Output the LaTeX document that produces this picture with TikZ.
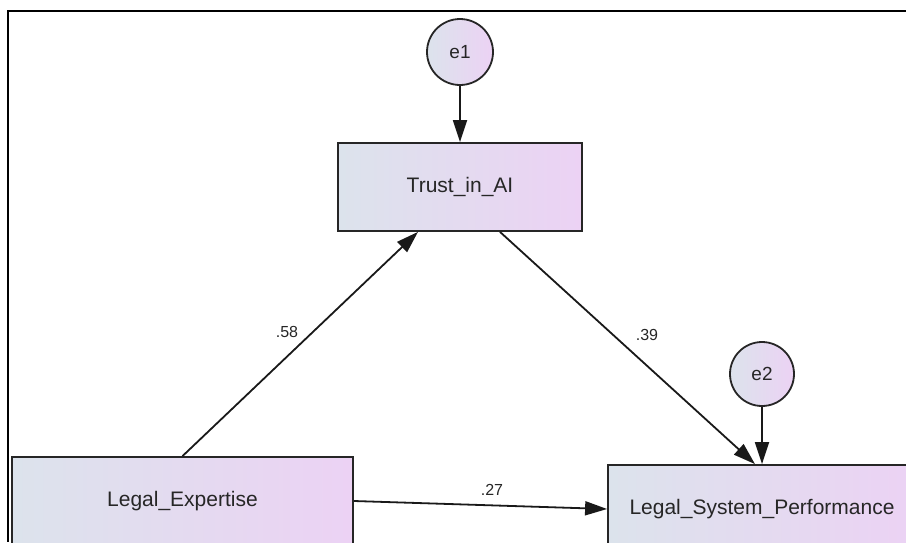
\documentclass[tikz,border=0pt]{standalone}
\usepackage{fontspec}
\setmainfont{Liberation Sans}
\usetikzlibrary{shapes,arrows.meta}
\definecolor{fillleft}{HTML}{DCE3EC}
\definecolor{fillright}{HTML}{ECD2F4}
\tikzstyle{observed} = [rectangle, draw=black!85, line width=1.8pt,
    left color=fillleft, right color=fillright, minimum width=244pt,
    minimum height=88pt, text=black!85, font=\fontsize{21}{25}\selectfont]
\tikzstyle{residual} = [circle, draw=black!85, line width=1.8pt,
    left color=fillleft, right color=fillright, minimum size=66pt,
    inner sep=0pt, text=black!85, font=\fontsize{19}{23}\selectfont]
\tikzstyle{effect} = [draw=black!90, line width=1.8pt,
    -{Triangle[length=22pt,width=14pt]}]
\tikzstyle{weight} = [text=black!85, font=\fontsize{16}{19}\selectfont]

\begin{document}
\begin{tikzpicture}[x=1pt, y=-1pt]
  \useasboundingbox (0,0) rectangle (906,542);
  \clip (0,0) rectangle (906,542);
  \draw[line width=2pt] (906,11) -- (8,11) -- (8,542);

  \node [residual] (e1) at (460,52) {e1};
  \node [residual, minimum size=64pt] (e2) at (762,374) {e2};
  \node [observed] (trust) at (460,187) {Trust\_in\_AI};
  \node [observed, minimum width=341pt] (expertise) at (182.5,501) {Legal\_Expertise};
  \node [observed, minimum width=308pt] (performance) at (762,509)
    {Legal\_System\_Performance};

  \draw [effect] (e1) -- (trust);
  \draw [effect] (e2) -- (performance);
  \draw [effect] (expertise.north) -- ([xshift=-42pt]trust.south);
  \draw [effect] ([xshift=40pt]trust.south) -- ([xshift=-7pt]performance.north);
  \draw [effect] (expertise.east) -- (performance.west);

  \node [weight] (w58) at (287,332) {.58};
  \node [weight] (w39) at (647,335) {.39};
  \node [weight] (w27) at (492,490) {.27};
\end{tikzpicture}
\end{document}
